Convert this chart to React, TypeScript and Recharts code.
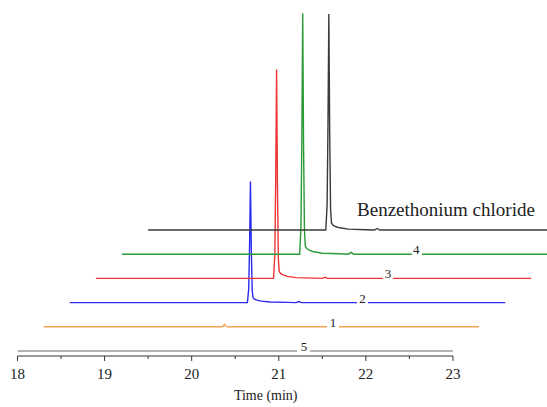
import React from 'react';
import { LineChart, Line, XAxis, YAxis, ReferenceLine, ReferenceDot } from 'recharts';

// retention time grid (min), before each trace is shifted for the stacked view
const times = [18.0, 20.0, 20.04, 20.055, 20.065, 20.075, 20.085, 20.095, 20.105, 20.12, 20.15, 20.2, 20.3, 20.5, 20.6, 20.63, 20.66, 21.0, 23.0];

// detector signal for each run (arbitrary units)
const blank = [0, 0, 0, 0, 0, 0, 0, 0, 0, 0, 0, 0, 0, 0, 0, 0, 0, 0, 0];
const sample1 = [0, 0, 0, 0.3, 1.2, 2.5, 1.2, 0.4, 0.2, 0.1, 0, 0, 0, 0, 0, 0, 0, 0, 0];
const sample2 = [0, 0, 0, 14, 58, 121, 52, 12, 5, 3.5, 2.5, 1.5, 0.6, 0.2, 0, 1, 0, 0, 0];
const sample3 = [0, 0, 0, 24, 100, 209, 92, 20, 7, 5, 3.5, 2, 0.8, 0.3, 0, 1.2, 0, 0, 0];
const sample4 = [0, 0, 0, 28, 116, 241, 106, 24, 8, 6, 4, 2.4, 1, 0.4, 0, 1.8, 0, 0, 0];
const standard = [0, 0, 0, 25, 104, 216, 95, 21, 7, 5, 3.5, 2.2, 0.9, 0.3, 0, 1.5, 0, 0, 0];

const traceLabels = ['5', '1', '2', '3', '4', 'Benzethonium chloride'];
const traceSignals = [blank, sample1, sample2, sample3, sample4, standard];
const traceColors = ['#9c9c9c', '#f5a452', '#2b2bf0', '#ef3434', '#2a9a35', '#3a3a3a'];

// where each trace's name sits (shown time, min) and the cut in the line round it
const labelTimes = [21.289, 21.622, 21.962, 22.253, 22.58, 22.92];
const gapStart = [21.209, 21.553, 21.898, 22.196, 22.529];
const gapEnd = [21.358, 21.691, 22.024, 22.311, 22.644];

const xTicks = [18, 18.5, 19, 19.5, 20, 20.5, 21, 21.5, 22, 22.5, 23];

const SHIFT = 0.3; // min between stacked traces
const BASE = 5;
const STEP = 24.2;
const FONT = 'Liberation Serif';

const traces = traceSignals.map((sig, k) => {
  const base = BASE + STEP * k;
  const pts: { t: number; v: number | null }[] = times.map((t, i) => ({
    t: +(t + SHIFT * k).toFixed(3),
    v: base + sig[i],
  }));
  if (k < gapStart.length) {
    pts.push(
      { t: gapStart[k], v: base },
      { t: (gapStart[k] + gapEnd[k]) / 2, v: null },
      { t: gapEnd[k], v: base }
    );
    pts.sort((a, b) => a.t - b.t);
  }
  return pts;
});

function TimeTick(props: any) {
  const { x, y, payload } = props;
  const major = Number.isInteger(payload.value);
  return (
    <g>
      <line x1={x} x2={x} y1={y} y2={y + (major ? 5 : 3)} stroke="#333" strokeWidth={1} />
      {major && (
        <text x={x} y={y + 23} textAnchor="middle" fill="#222" fontFamily={FONT} fontSize={15}>
          {payload.value}
        </text>
      )}
    </g>
  );
}

export default function App() {
  return (
    <div style={{ position: 'absolute', left: 0, top: 0, background: '#fff' }}>
      <LineChart width={547} height={407} margin={{ top: 0, right: 0, bottom: 0, left: 17.5 }}>
        <XAxis
          dataKey="t"
          type="number"
          domain={[18, 24.08]}
          allowDataOverflow
          ticks={xTicks}
          interval={0}
          axisLine={false}
          tickLine={false}
          tickSize={0}
          tickMargin={0}
          height={51}
          tick={<TimeTick />}
        />
        <YAxis type="number" domain={[0, 356]} hide allowDataOverflow />
        <ReferenceLine
          segment={[{ x: 18, y: 0 }, { x: 23, y: 0 }]}
          stroke="#333"
          strokeWidth={1}
        />
        {traces.map((data, k) => (
          <Line
            key={traceLabels[k]}
            data={data}
            dataKey="v"
            type="linear"
            stroke={traceColors[k]}
            strokeWidth={k === 0 ? 1.6 : 1.4}
            dot={false}
            activeDot={false}
            isAnimationActive={false}
          />
        ))}
        {traceLabels.map((name, k) => (
          <ReferenceDot
            key={'lab' + k}
            x={labelTimes[k]}
            y={BASE + STEP * k}
            r={0}
            fill="none"
            stroke="none"
            label={{
              value: name,
              position: 'top',
              offset: k === 5 ? 14 : 0,
              fill: '#222',
              fontFamily: FONT,
              fontSize: k === 5 ? 19 : 13,
            }}
          />
        ))}
        <ReferenceDot
          x={20.85}
          y={0}
          r={0}
          fill="none"
          stroke="none"
          label={{ value: 'Time (min)', position: 'bottom', offset: 34, fill: '#222', fontFamily: FONT, fontSize: 14 }}
        />
      </LineChart>
    </div>
  );
}
